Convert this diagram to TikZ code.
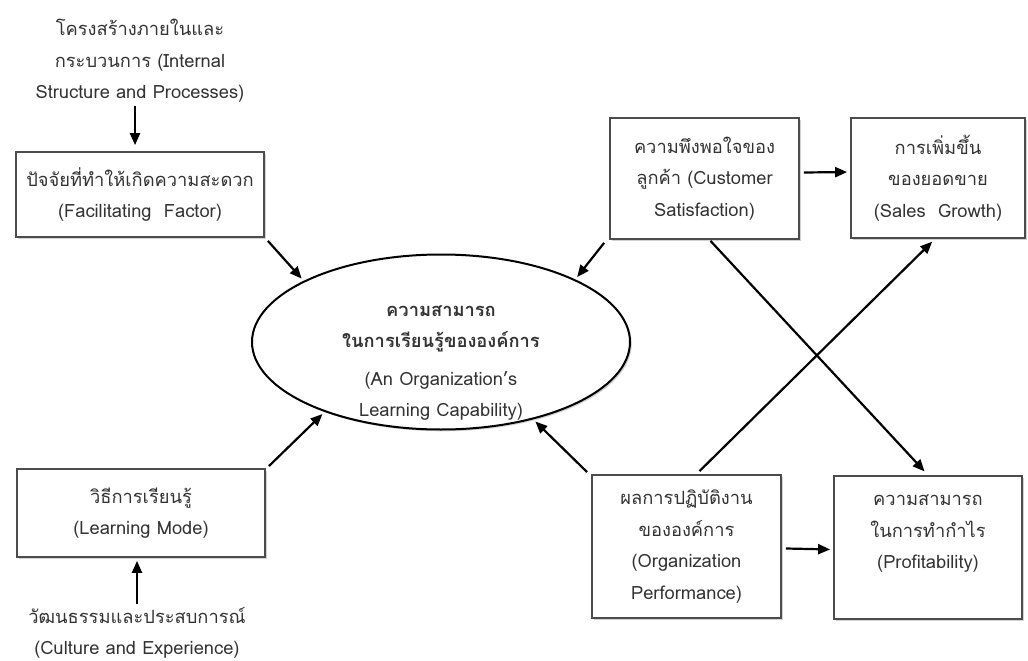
\documentclass[tikz,border=0pt]{standalone}
\usepackage{fontspec}
\setmainfont[Script=Thai]{Loma}
\usetikzlibrary{arrows.meta,shapes.geometric,shadows}
\begin{document}
\begin{tikzpicture}[x=1pt,y=-1pt,
  every node/.style={font=\fontsize{18.3}{31.5}\selectfont, text=black!80, align=center},
  box/.style={draw=black!70, line width=1.8pt, fill=white, inner sep=0pt,
    drop shadow={shadow xshift=1.8pt, shadow yshift=-1.8pt, opacity=0.35}},
  arr/.style={line width=2.2pt, -{Triangle[length=12pt,width=10pt]}, shorten >=3pt}]
\useasboundingbox (0,0) rectangle (1028,661);
\fill[white] (0,0) rectangle (1028,661);

\node (intext) at (140,61) {โครงสร้างภายในและ\\กระบวนการ (Internal\\Structure and Processes)};
\node[box, minimum width=248pt, minimum height=85pt] (fac) at (140,194.5) {ปัจจัยที่ทำให้เกิดความสะดวก\\(Facilitating~~Factor)};
\node[box, minimum width=248pt, minimum height=88pt] (learn) at (141,513) {วิธีการเรียนรู้\\(Learning Mode)};
\node (culture) at (137,633) {วัฒนธรรมและประสบการณ์\\(Culture and Experience)};

\node[ellipse, draw=black, line width=2pt, fill=white, inner sep=0pt,
  minimum width=378pt, minimum height=175pt,
  drop shadow={shadow xshift=1.8pt, shadow yshift=-1.8pt, opacity=0.35}] (ell) at (441,342) {};
\node (elltext) at (441,363) {\textbf{ความสามารถ}\\\textbf{ในการเรียนรู้ขององค์การ}\\[6pt](An Organization’s\\Learning Capability)};

\node[box, minimum width=189pt, minimum height=121pt] (cust) at (704.5,178.5) {ความพึงพอใจของ\\ลูกค้า (Customer\\Satisfaction)};
\node[box, minimum width=174pt, minimum height=120pt] (sales) at (938,178) {การเพิ่มขึ้น\\ของยอดขาย\\(Sales~~Growth)};
\node[box, minimum width=189pt, minimum height=143pt] (perf) at (686.5,546.5) {ผลการปฏิบัติงาน\\ขององค์การ\\(Organization\\Performance)};
\node[box, minimum width=188pt, minimum height=143pt] (prof) at (928,547.5) {ความสามารถ\\ในการทำกำไร\\(Profitability)\\~};

\draw[arr, shorten >=6pt] ([shift={(-5,0)}]intext.south) -- ([shift={(-5,0)}]fac.north);
\draw[arr] (culture.north) -- ([shift={(-4,0)}]learn.south);
\draw[arr] ([shift={(3,3)}]fac.south east) -- (ell.156);
\draw[arr] ([shift={(3,-2)}]learn.north east) -- (ell.211);
\draw[arr] ([shift={(-5,3)}]cust.south west) -- (ell.25);
\draw[arr] ([shift={(-4,-2)}]perf.north west) -- (ell.320);
\draw[arr] ([shift={(4,-6)}]cust.east) -- ([shift={(0,-6)}]sales.west);
\draw[arr] ([shift={(4,2)}]perf.east) -- ([shift={(0,2)}]prof.west);
\draw[arr, shorten >=5pt] ([shift={(6,1)}]cust.south) -- (prof.north);
\draw[arr, shorten >=4pt] ([shift={(13,-3)}]perf.north) -- ([shift={(-3,0)}]sales.south);
\end{tikzpicture}
\end{document}
